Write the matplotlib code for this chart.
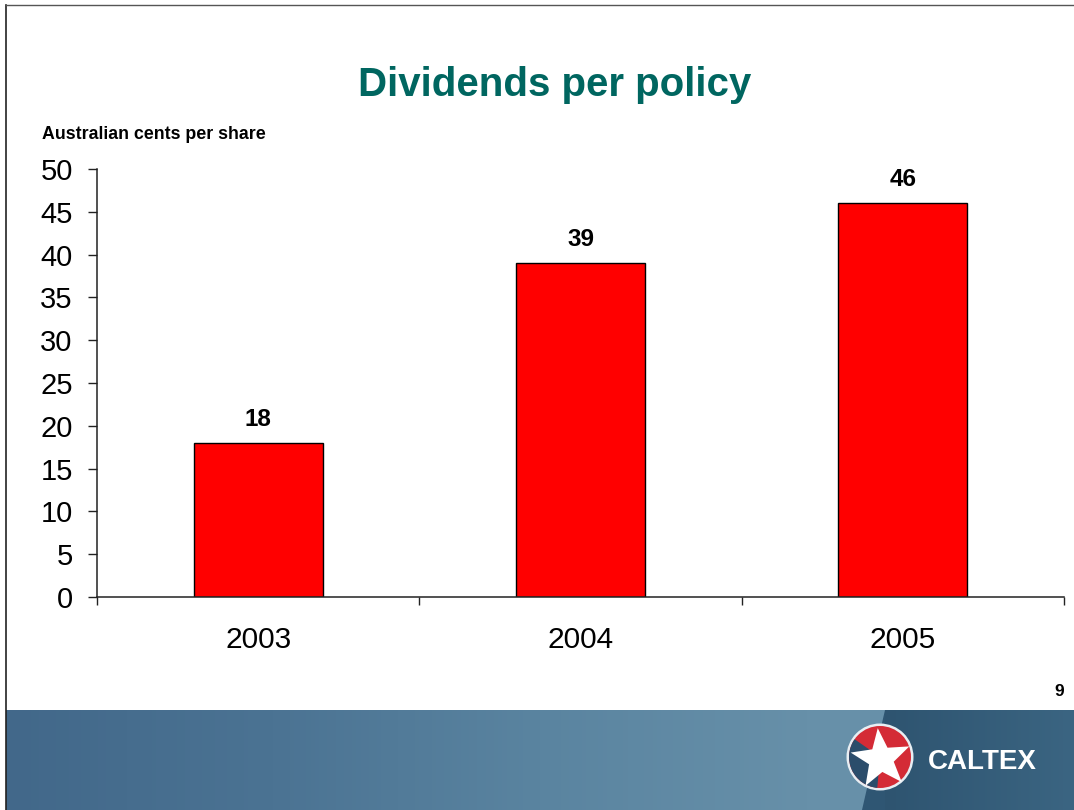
import numpy as np
import matplotlib
matplotlib.use("Agg")
import matplotlib.pyplot as plt
from matplotlib.patches import Polygon, Circle, Wedge
from matplotlib.colors import LinearSegmentedColormap

plt.rcParams['font.family'] = ['Liberation Sans', 'DejaVu Sans']

# Dividend data (Australian cents per share)
years = ['2003', '2004', '2005']
dividends = [18, 39, 46]
y_ticks = [0, 5, 10, 15, 20, 25, 30, 35, 40, 45, 50]

W, H = 1074, 810
fig = plt.figure(figsize=(W / 100, H / 100), dpi=100)
fig.patch.set_facecolor('white')

# background layer in pixel coordinates for the slide frame and footer
bg = fig.add_axes([0, 0, 1, 1])
bg.set_xlim(0, W)
bg.set_ylim(H, 0)
bg.axis('off')

# footer band with blue gradient
grad_cmap = LinearSegmentedColormap.from_list(
    'footer', ['#42688a', '#4b7393', '#5a84a0', '#6790a9', '#6a93ab'])
grad = np.linspace(0, 1, 256).reshape(1, -1)
bg.imshow(grad, cmap=grad_cmap, extent=[6, W, H, 710], aspect='auto', zorder=1)
# darker panel on the right behind the logo
bg.add_patch(Polygon([[885, 710], [W, 710], [W, H], [862, H]],
                     closed=True, facecolor='#2f5673', edgecolor='none', zorder=2))
panel = LinearSegmentedColormap.from_list('panel', ['#2e5470', '#3b6582'])
bg.imshow(grad, cmap=panel, extent=[885, W, H, 710], aspect='auto', zorder=2,
          clip_path=bg.patches[-1], clip_on=True)

# slide frame lines
bg.plot([6, 6], [5, H], color='#222222', lw=1.2, zorder=5)
bg.plot([6, W], [5, 5], color='#555555', lw=1.0, zorder=5)

# logo: ringed circle with split colours and white star
cx, cy, r = 880, 757, 31
bg.add_patch(Circle((cx, cy), r + 2.5, facecolor='#e8eef3', edgecolor='none', zorder=6))
bg.add_patch(Circle((cx, cy), r, facecolor='#d42b36', edgecolor='none', zorder=7))
bg.add_patch(Wedge((cx, cy), r, 95, 215, facecolor='#2b4d6b', edgecolor='none', zorder=8))
ang = np.deg2rad(-90 + np.arange(10) * 36 - 6)
rad = np.where(np.arange(10) % 2 == 0, r * 1.0, r * 0.42)
star = np.column_stack([cx + 1 + rad * np.cos(ang), cy + 2 + rad * np.sin(ang)])
bg.add_patch(Polygon(star, closed=True, facecolor='white', edgecolor='none', zorder=9))
bg.text(928, 769, 'CALTEX', color='white', fontsize=20, fontweight='bold',
        ha='left', va='baseline', zorder=10)

# slide texts
bg.text(555, 96, 'Dividends per policy', color='#006660', fontsize=29,
        fontweight='bold', ha='center', va='baseline', zorder=10)
bg.text(42, 139, 'Australian cents per share', color='black', fontsize=12.8,
        fontweight='bold', ha='left', va='baseline', zorder=10)
bg.text(1064, 696, '9', color='black', fontsize=12.5, fontweight='bold',
        ha='right', va='baseline', zorder=10)

# bar chart
ax = fig.add_axes([97 / W, (H - 597) / H, (1064 - 97) / W, (597 - 169) / H])
ax.set_facecolor('none')
x = np.arange(len(years))
bars = ax.bar(x, dividends, width=0.4, color='#ff0000', edgecolor='black', linewidth=1.0)
for xi, v in zip(x, dividends):
    ax.annotate(str(v), (xi, v), xytext=(0, 8.5), textcoords='offset points',
                ha='center', va='bottom', fontsize=17.5, fontweight='bold')

ax.set_xlim(-0.5, len(years) - 0.5)
ax.set_ylim(0, 50)
ax.set_yticks(y_ticks)
ax.tick_params(axis='y', direction='out', length=6.5, width=1.0, pad=11,
               labelsize=21, color='#222222')
ax.set_xticks(x)
ax.set_xticklabels(years)
ax.tick_params(axis='x', which='major', length=0, pad=21, labelsize=21.5)
ax.set_xticks(np.arange(len(years) + 1) - 0.5, minor=True)
ax.tick_params(axis='x', which='minor', direction='out', length=6, width=1.0,
               color='#222222')

for side in ['top', 'right']:
    ax.spines[side].set_visible(False)
for side in ['left', 'bottom']:
    ax.spines[side].set_color('#222222')
    ax.spines[side].set_linewidth(1.1)

fig.savefig('out.png', dpi=100)
